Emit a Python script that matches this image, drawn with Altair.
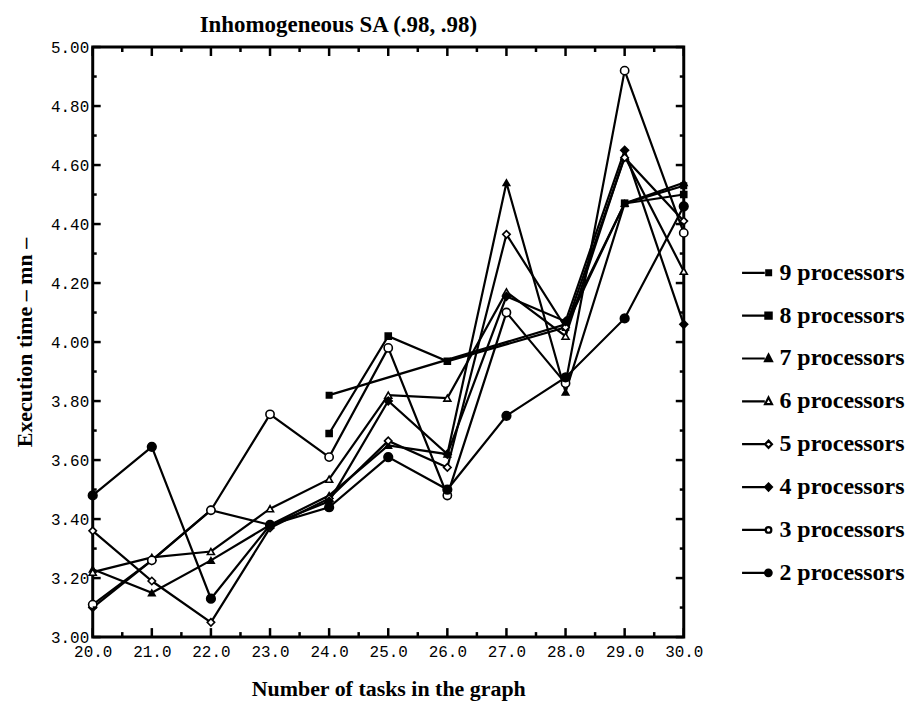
import altair as alt
import pandas as pd

# ---- data ----
tasks = [20, 21, 22, 23, 24, 25, 26, 27, 28, 29, 30]
p2 = [3.48, 3.645, 3.13, 3.38, 3.44, 3.61, 3.50, 3.75, 3.88, 4.08, 4.46]
p3 = [3.11, 3.26, 3.43, 3.755, 3.61, 3.98, 3.48, 4.10, 3.86, 4.92, 4.37]
p4 = [3.10, 3.26, 3.43, 3.38, 3.46, 3.80, 3.62, 4.155, 4.07, 4.65, 4.06]
p5 = [3.36, 3.19, 3.05, 3.37, 3.47, 3.665, 3.575, 4.365, 4.05, 4.625, 4.41]
p6 = [3.22, 3.27, 3.29, 3.435, 3.535, 3.82, 3.81, 4.17, 4.02, 4.63, 4.24]
p7 = [3.23, 3.15, 3.26, 3.38, 3.48, 3.65, 3.62, 4.54, 3.83, 4.47, 4.54]
p8_tasks = [24, 25, 26, 28, 29, 30]
p8 = [3.69, 4.02, 3.935, 4.05, 4.47, 4.50]
p9_tasks = [24, 28, 29, 30]
p9 = [3.82, 4.06, 4.47, 4.53]

labels = ["9 processors", "8 processors", "7 processors", "6 processors",
          "5 processors", "4 processors", "3 processors", "2 processors"]

y_major = [3.0, 3.2, 3.4, 3.6, 3.8, 4.0, 4.2, 4.4, 4.6, 4.8, 5.0]
y_minor = [3.1, 3.3, 3.5, 3.7, 3.9, 4.1, 4.3, 4.5, 4.7, 4.9]
x_major = [20, 21, 22, 23, 24, 25, 26, 27, 28, 29, 30]
x_minor = [20.5, 21.5, 22.5, 23.5, 24.5, 25.5, 26.5, 27.5, 28.5, 29.5]

rows = []
for lab, xs, ys in [
    ("9 processors", p9_tasks, p9), ("8 processors", p8_tasks, p8),
    ("7 processors", tasks, p7), ("6 processors", tasks, p6),
    ("5 processors", tasks, p5), ("4 processors", tasks, p4),
    ("3 processors", tasks, p3), ("2 processors", tasks, p2)]:
    for a, b in zip(xs, ys):
        rows.append({"series": lab, "x": a, "y": b})
df = pd.DataFrame(rows)

W, H = 593, 592
SERIF = "Liberation Serif"
MONO = "Liberation Mono"

plot_shapes = ["square", "square", "triangle-up", "triangle-up",
               "diamond", "diamond", "circle", "circle"]
fills = ["black", "black", "black", "white", "white", "black", "white", "black"]
strokes = ["black"] * 8
sizes = [30, 75, 85, 85, 80, 80, 65, 85]

# legend symbols: line stub + marker at the right end
L = "M-1,0L0.52,0 "
leg_shapes = [
    L + "M0.62,-0.16L0.94,-0.16L0.94,0.16L0.62,0.16Z",
    L + "M0.56,-0.21L0.98,-0.21L0.98,0.21L0.56,0.21Z",
    L + "M0.77,-0.26L1,0.18L0.54,0.18Z",
    L + "M0.77,-0.26L1,0.18L0.54,0.18Z",
    L + "M0.77,-0.24L1,0L0.77,0.24L0.54,0Z",
    L + "M0.77,-0.24L1,0L0.77,0.24L0.54,0Z",
    L + "M0.58,0A0.19,0.19 0 1,0 0.96,0A0.19,0.19 0 1,0 0.58,0Z",
    L + "M0.54,0A0.22,0.22 0 1,0 0.98,0A0.22,0.22 0 1,0 0.54,0Z",
]

x_enc = alt.X("x:Q", scale=alt.Scale(domain=[20, 30], nice=False, zero=False),
              axis=alt.Axis(values=x_major, format=".1f", title="Number of tasks in the graph",
                            ticks=False, domain=False, grid=False, labelPadding=6,
                            labelFlush=False, labelOverlap=False, titlePadding=20))
y_enc = alt.Y("y:Q", scale=alt.Scale(domain=[3.0, 5.0], nice=False, zero=False),
              axis=alt.Axis(values=y_major, format=".2f", title="Execution time – mn –",
                            ticks=False, domain=False, grid=False, labelPadding=4,
                            labelFlush=False, labelOverlap=False, titlePadding=14))

lines = alt.Chart(df).mark_line(color="black", strokeWidth=2.2).encode(
    x=x_enc, y=y_enc, detail="series:N")

points = alt.Chart(df).mark_point(stroke="black", strokeWidth=1.6, opacity=1).encode(
    x="x:Q", y="y:Q",
    shape=alt.Shape("series:N", scale=alt.Scale(domain=labels, range=plot_shapes), legend=None),
    fill=alt.Fill("series:N", scale=alt.Scale(domain=labels, range=fills), legend=None),
    size=alt.Size("series:N", scale=alt.Scale(domain=labels, range=sizes), legend=None),
)

leg = alt.Legend(title=None, orient="none", legendX=650, legendY=210)
legend_layer = alt.Chart(df).transform_filter("false").mark_point(
    strokeWidth=2.2, size=900, opacity=1).encode(
    x="x:Q", y="y:Q",
    shape=alt.Shape("series:N", scale=alt.Scale(domain=labels, range=leg_shapes), legend=leg),
    fill=alt.Fill("series:N", scale=alt.Scale(domain=labels, range=fills), legend=leg),
    stroke=alt.Stroke("series:N", scale=alt.Scale(domain=labels, range=strokes), legend=leg),
)

dymaj = pd.DataFrame({"y": y_major})
dymin = pd.DataFrame({"y": y_minor})
dxmaj = pd.DataFrame({"x": x_major})
dxmin = pd.DataFrame({"x": x_minor})

def yticks(d, length, sw):
    left = alt.Chart(d).mark_rule(color="black", strokeWidth=sw).encode(
        y="y:Q", x=alt.value(0), x2=alt.value(length))
    right = alt.Chart(d).mark_rule(color="black", strokeWidth=sw).encode(
        y="y:Q", x=alt.value(W - length), x2=alt.value(W))
    return [left, right]

def xticks(d, length, sw):
    bottom = alt.Chart(d).mark_rule(color="black", strokeWidth=sw).encode(
        x="x:Q", y=alt.value(H), y2=alt.value(H - length))
    top = alt.Chart(d).mark_rule(color="black", strokeWidth=sw).encode(
        x="x:Q", y=alt.value(0), y2=alt.value(length))
    return [bottom, top]

tick_layers = yticks(dymaj, 8, 2.5) + yticks(dymin, 4, 2.5) + xticks(dxmaj, 9, 2.5) + xticks(dxmin, 5, 2.5)

chart = alt.layer(lines, points, *tick_layers, legend_layer).resolve_scale(
    shape="independent", fill="independent", size="independent", stroke="independent"
).properties(
    width=W, height=H,
    title=alt.TitleParams("Inhomogeneous SA (.98, .98)", font=SERIF, fontSize=23,
                          fontWeight="bold", color="black", dx=-50, offset=2),
).configure_view(stroke="black", strokeWidth=3).configure_axis(
    labelFont=MONO, labelFontSize=16, labelColor="black",
    titleFont=SERIF, titleFontSize=22, titleFontWeight="bold", titleColor="black",
).configure_legend(
    labelFont=SERIF, labelFontSize=24, labelFontWeight="bold", labelColor="black",
    symbolStrokeWidth=2.2, symbolSize=900, symbolOpacity=1,
    rowPadding=14, labelOffset=6, padding=0, labelLimit=300,
)

chart.save("out.html", embed_options={"renderer": "svg", "actions": False})
